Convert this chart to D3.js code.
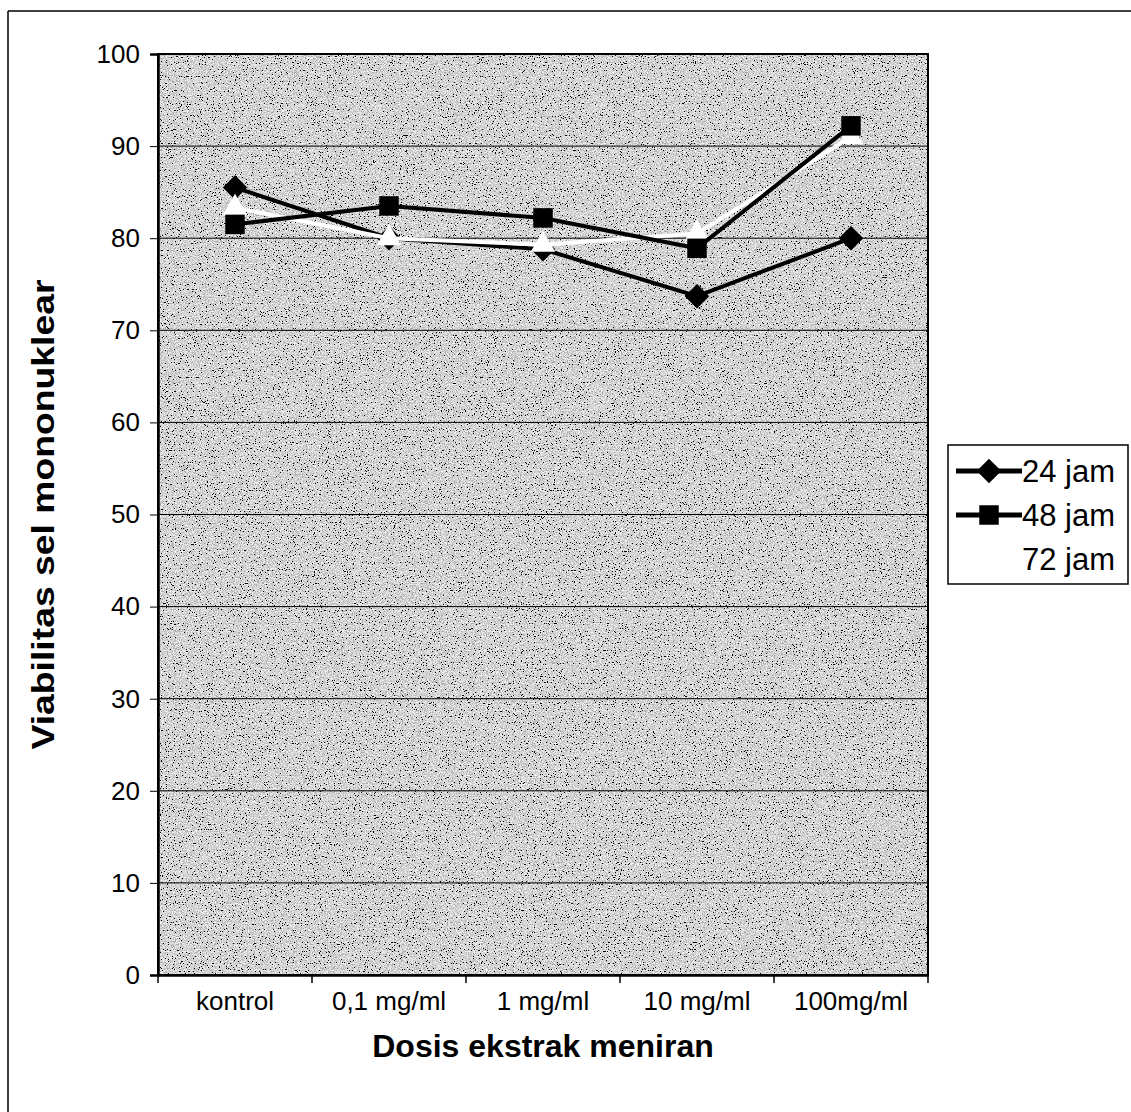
<!DOCTYPE html>
<html>
<head>
<meta charset="utf-8">
<script src="https://cdn.jsdelivr.net/npm/d3@7"></script>
<style>
  body { margin: 0; background: #fff; }
  svg { display: block; font-family: Arial, "Liberation Sans", sans-serif; }
</style>
</head>
<body>
<div id="chart"></div>
<script>
// data
var categories = ["kontrol", "0,1 mg/ml", "1 mg/ml", "10 mg/ml", "100mg/ml"];
var jam24 = [85.5, 80.0, 78.8, 73.7, 80.0];
var jam48 = [81.5, 83.5, 82.2, 78.9, 92.2];
var jam72 = [83.3, 80.0, 79.3, 80.5, 91.0];
var seriesNames = ["24 jam", "48 jam", "72 jam"];
var yTicks = [0, 10, 20, 30, 40, 50, 60, 70, 80, 90, 100];

var width = 1131, height = 1112;
var margins = { top: 54, right: 203, bottom: 137, left: 158 };
var innerW = width - margins.left - margins.right;
var innerH = height - margins.top - margins.bottom;

var svg = d3.select("#chart").append("svg")
    .attr("width", width)
    .attr("height", height);

// speckled scan texture for the plot area
var defs = svg.append("defs");
var f = defs.append("filter").attr("id", "speckle")
    .attr("x", 0).attr("y", 0).attr("width", "100%").attr("height", "100%");
f.append("feTurbulence")
    .attr("type", "fractalNoise")
    .attr("baseFrequency", 0.85)
    .attr("numOctaves", 3)
    .attr("seed", 7);
f.append("feColorMatrix")
    .attr("type", "matrix")
    .attr("values", "1 0 0 0 0  1 0 0 0 0  1 0 0 0 0  0 0 0 0 1");
var ct = f.append("feComponentTransfer");
["feFuncR", "feFuncG", "feFuncB"].forEach(function (n) {
    ct.append(n).attr("type", "discrete")
        .attr("tableValues", "0 0 0 0.4 0.6 0.72 0.85 0.97 1 1");
});

// page frame (left and top only, like the scan)
svg.append("line").attr("x1", 8).attr("x2", 8).attr("y1", 11).attr("y2", height)
    .attr("stroke", "#000").attr("stroke-width", 1.5);
svg.append("line").attr("x1", 8).attr("x2", width).attr("y1", 11).attr("y2", 11)
    .attr("stroke", "#000").attr("stroke-width", 1.5);

var g = svg.append("g")
    .attr("transform", "translate(" + margins.left + "," + margins.top + ")");

var x = d3.scaleBand().domain(categories).range([0, innerW]);
var y = d3.scaleLinear().domain([0, 100]).range([innerH, 0]);

g.append("rect")
    .attr("width", innerW)
    .attr("height", innerH)
    .attr("fill", "#aaa")
    .attr("filter", "url(#speckle)");

// gridlines
g.selectAll(".grid").data(yTicks.slice(1, -1)).enter().append("line")
    .attr("x1", 0).attr("x2", innerW)
    .attr("y1", function (d) { return y(d); })
    .attr("y2", function (d) { return y(d); })
    .attr("stroke", "#000").attr("stroke-width", 1);

// plot border
g.append("rect")
    .attr("width", innerW).attr("height", innerH)
    .attr("fill", "none").attr("stroke", "#000").attr("stroke-width", 2);

// y axis
var yAxis = g.append("g")
    .call(d3.axisLeft(y).tickValues(yTicks).tickSize(8).tickPadding(10));
yAxis.select(".domain").attr("stroke-width", 2.5);
yAxis.selectAll("text").attr("font-size", 26).attr("fill", "#000");

// x axis: ticks on category boundaries
var xAxis = g.append("g").attr("transform", "translate(0," + innerH + ")")
    .call(d3.axisBottom(x).tickSize(0).tickPadding(17));
xAxis.select(".domain").attr("stroke-width", 2.5);
xAxis.selectAll("text").attr("font-size", 26).attr("fill", "#000").attr("dy", "0.71em");
xAxis.selectAll(".bound").data(d3.range(categories.length + 1)).enter().append("line")
    .attr("x1", function (i) { return i * x.bandwidth(); })
    .attr("x2", function (i) { return i * x.bandwidth(); })
    .attr("y1", 0).attr("y2", 8)
    .attr("stroke", "#000").attr("stroke-width", 1.5);

// titles
svg.append("text")
    .attr("x", margins.left + innerW / 2).attr("y", 1057)
    .attr("text-anchor", "middle")
    .attr("font-size", 32).attr("font-weight", "bold")
    .text("Dosis ekstrak meniran");
svg.append("text")
    .attr("transform", "translate(54," + (margins.top + innerH / 2) + ") rotate(-90)")
    .attr("text-anchor", "middle")
    .attr("font-size", 31).attr("font-weight", "bold")
    .attr("textLength", 470).attr("lengthAdjust", "spacingAndGlyphs")
    .text("Viabilitas sel mononuklear");

var line = d3.line()
    .x(function (d, i) { return x(categories[i]) + x.bandwidth() / 2; })
    .y(function (d) { return y(d); });

var styles = {
    "24 jam": { color: "#000", width: 4, shape: d3.symbolSquare, size: 300, rot: 45 },
    "48 jam": { color: "#000", width: 4, shape: d3.symbolSquare, size: 380, rot: 0 },
    "72 jam": { color: "#fff", width: 4, shape: d3.symbolTriangle, size: 260, rot: 0 }
};
var data = { "24 jam": jam24, "48 jam": jam48, "72 jam": jam72 };

// draw order as in the scan: 24, 72, then 48 on top
["24 jam", "72 jam", "48 jam"].forEach(function (name) {
    var s = styles[name];
    g.append("path").datum(data[name])
        .attr("d", line)
        .attr("fill", "none")
        .attr("stroke", s.color)
        .attr("stroke-width", s.width);
    g.selectAll(null).data(data[name]).enter().append("path")
        .attr("transform", function (d, i) {
            return "translate(" + (x(categories[i]) + x.bandwidth() / 2) + "," + y(d) + ") rotate(" + s.rot + ")";
        })
        .attr("d", d3.symbol().type(s.shape).size(s.size))
        .attr("fill", s.color);
});

// legend
var lg = svg.append("g").attr("transform", "translate(948,445)");
lg.append("rect").attr("width", 180).attr("height", 139)
    .attr("fill", "#fff").attr("stroke", "#000").attr("stroke-width", 1.5);
seriesNames.forEach(function (name, i) {
    var s = styles[name];
    var ly = 26 + i * 44;
    lg.append("line").attr("x1", 8).attr("x2", 74).attr("y1", ly).attr("y2", ly)
        .attr("stroke", s.color).attr("stroke-width", 5);
    lg.append("path").attr("transform", "translate(41," + ly + ") rotate(" + s.rot + ")")
        .attr("d", d3.symbol().type(s.shape).size(s.size))
        .attr("fill", s.color);
    lg.append("text").attr("x", 74).attr("y", ly).attr("dy", "0.36em")
        .attr("font-size", 31).text(name);
});
</script>
</body>
</html>
